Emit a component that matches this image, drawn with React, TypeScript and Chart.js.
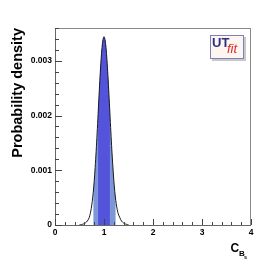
import React, { useEffect, useRef } from "react";
import { Chart, registerables } from "chart.js";

Chart.register(...registerables);

// ---- data ----
const X_VALUES = [
  0.5, 0.52, 0.54, 0.56, 0.58, 0.6, 0.62, 0.64, 0.66, 0.68,
  0.7, 0.72, 0.74, 0.76, 0.78, 0.8, 0.82, 0.84, 0.86, 0.88,
  0.9, 0.92, 0.94, 0.96, 0.98, 1.0, 1.02, 1.04, 1.06, 1.08,
  1.1, 1.12, 1.14, 1.16, 1.18, 1.2, 1.22, 1.24, 1.26, 1.28,
  1.3, 1.32, 1.34, 1.36, 1.38, 1.4, 1.42, 1.44, 1.46, 1.48, 1.5,
];
const DENSITY = [
  0.000004, 0.000006, 0.000009, 0.000013, 0.000019, 0.000027, 0.000038, 0.000053, 0.000073, 0.0001,
  0.00014, 0.00021, 0.0003, 0.00043, 0.00059, 0.0008, 0.001054, 0.00135, 0.001681, 0.002033,
  0.002388, 0.002723, 0.003016, 0.003245, 0.00339, 0.00344, 0.00339, 0.00325, 0.00302, 0.00273,
  0.0024, 0.00205, 0.0017, 0.00137, 0.00108, 0.00082, 0.00061, 0.00045, 0.00033, 0.00024,
  0.00018, 0.00014, 0.0001, 0.00007, 0.00005, 0.000035, 0.000025, 0.000018, 0.000012, 0.000008, 0.000005,
];
const BAND_68 = [0.88, 1.12];
const BAND_95 = [0.78, 1.24];
const X_RANGE = [0, 4];
const Y_RANGE = [0, 0.0036];
const X_STEP = 1;
const Y_STEP = 0.001;
const X_MINOR = 0.2;
const Y_MINOR = 0.0002;
const Y_TITLE = "Probability density";
const X_TITLE = ["C", "B", "s"];
const LOGO = ["UT", "fit"];

const FONT = "'Liberation Sans', Arial, Helvetica, sans-serif";

function points(lo: number, hi: number) {
  const out: { x: number; y: number }[] = [];
  X_VALUES.forEach((x, i) => {
    if (x >= lo - 1e-9 && x <= hi + 1e-9) out.push({ x, y: DENSITY[i] });
  });
  return out;
}

const decorPlugin = {
  id: "decor",
  afterDatasetsDraw(chart: any) {
    const { ctx, chartArea: a, scales } = chart;
    const xs = scales.x;
    const ys = scales.y;
    ctx.save();
    // frame
    ctx.lineWidth = 1;
    ctx.strokeStyle = "#8a8a8a";
    ctx.strokeRect(a.left + 0.5, a.top + 0.5, a.right - a.left - 1, a.bottom - a.top);
    ctx.strokeStyle = "#666";
    ctx.beginPath();
    ctx.moveTo(a.left + 0.5, a.top);
    ctx.lineTo(a.left + 0.5, a.bottom + 0.5);
    ctx.lineTo(a.right, a.bottom + 0.5);
    ctx.stroke();
    // ticks
    ctx.strokeStyle = "#444";
    ctx.beginPath();
    const nx = Math.round((X_RANGE[1] - X_RANGE[0]) / X_MINOR);
    for (let i = 0; i <= nx; i++) {
      const v = X_RANGE[0] + i * X_MINOR;
      const px = Math.round(xs.getPixelForValue(v)) + 0.5;
      const major = i % Math.round(X_STEP / X_MINOR) === 0;
      ctx.moveTo(px, a.bottom);
      ctx.lineTo(px, a.bottom - (major ? 6 : 3));
    }
    const ny = Math.floor((Y_RANGE[1] - Y_RANGE[0]) / Y_MINOR + 1e-6);
    for (let i = 0; i <= ny; i++) {
      const v = Y_RANGE[0] + i * Y_MINOR;
      const py = Math.round(ys.getPixelForValue(v)) + 0.5;
      const major = i % Math.round(Y_STEP / Y_MINOR) === 0;
      ctx.moveTo(a.left, py);
      ctx.lineTo(a.left + (major ? 7 : 4), py);
    }
    ctx.stroke();
    ctx.restore();
  },
  afterDraw(chart: any) {
    const { ctx, chartArea: a } = chart;
    ctx.save();
    // y title
    ctx.fillStyle = "#000";
    ctx.font = `bold 14.5px ${FONT}`;
    ctx.translate(21.5, a.top);
    ctx.rotate(-Math.PI / 2);
    ctx.textAlign = "right";
    ctx.textBaseline = "alphabetic";
    ctx.fillText(Y_TITLE, 0, 0);
    ctx.restore();

    // x title with nested subscripts
    ctx.save();
    ctx.fillStyle = "#000";
    ctx.textBaseline = "alphabetic";
    ctx.textAlign = "left";
    ctx.font = `bold 12px ${FONT}`;
    ctx.fillText(X_TITLE[0], 230.5, 251.5);
    ctx.font = `bold 8px ${FONT}`;
    ctx.fillText(X_TITLE[1], 239, 256);
    ctx.font = `bold 5.5px ${FONT}`;
    ctx.fillText(X_TITLE[2], 244, 258.5);
    ctx.restore();

    // logo
    ctx.save();
    const lx = 210, ly = 35, lw = 34, lh = 24;
    ctx.fillStyle = "#c8c8c8";
    ctx.fillRect(lx + 2, ly + 2, lw, lh);
    ctx.fillStyle = "#fdf6f0";
    ctx.fillRect(lx, ly, lw, lh);
    ctx.strokeStyle = "#7d7fbf";
    ctx.lineWidth = 1;
    ctx.strokeRect(lx + 0.5, ly + 0.5, lw - 1, lh - 1);
    ctx.textBaseline = "alphabetic";
    ctx.fillStyle = "#2b2f7e";
    ctx.font = `bold 13px ${FONT}`;
    ctx.fillText(LOGO[0], 212, 47);
    ctx.fillStyle = "#e0262a";
    ctx.font = `italic 13px ${FONT}`;
    ctx.fillText(LOGO[1], 227, 53);
    ctx.restore();
  },
};

export default function App() {
  const ref = useRef<HTMLCanvasElement | null>(null);
  useEffect(() => {
    if (!ref.current) return;
    const chart = new Chart(ref.current, {
      type: "line",
      data: {
        datasets: [
          {
            label: "pdf",
            data: points(X_VALUES[0], X_VALUES[X_VALUES.length - 1]),
            borderColor: "#1a1a1a",
            borderWidth: 1,
            pointRadius: 0,
            fill: false,
            tension: 0.3,
            order: 0,
          },
          {
            label: "68%",
            data: points(BAND_68[0], BAND_68[1]),
            borderWidth: 0,
            borderColor: "rgba(0,0,0,0)",
            backgroundColor: "#5353dc",
            pointRadius: 0,
            fill: "origin",
            tension: 0.3,
            order: 1,
          },
          {
            label: "95%",
            data: points(BAND_95[0], BAND_95[1]),
            borderWidth: 0,
            borderColor: "rgba(0,0,0,0)",
            backgroundColor: "#7b97d8",
            pointRadius: 0,
            fill: "origin",
            tension: 0.3,
            order: 2,
          },
        ],
      },
      options: {
        responsive: false,
        animation: false,
        events: [],
        layout: { padding: { left: 0, top: 28, right: 28, bottom: 0 } },
        plugins: { legend: { display: false }, tooltip: { enabled: false } },
        scales: {
          x: {
            type: "linear",
            min: X_RANGE[0],
            max: X_RANGE[1],
            grid: { display: false, drawTicks: false },
            border: { display: false },
            afterFit: (s: any) => {
              s.height = 41;
            },
            ticks: {
              stepSize: X_STEP,
              autoSkip: false,
              maxRotation: 0,
              includeBounds: false,
              padding: 3,
              color: "#000",
              font: { family: FONT, size: 8.5, weight: "bold" },
              callback: (v: any) => String(v),
            },
          },
          y: {
            type: "linear",
            min: Y_RANGE[0],
            max: Y_RANGE[1],
            grid: { display: false, drawTicks: false },
            border: { display: false },
            afterFit: (s: any) => {
              s.width = 55;
            },
            ticks: {
              stepSize: Y_STEP,
              autoSkip: false,
              includeBounds: false,
              padding: 3,
              color: "#000",
              font: { family: FONT, size: 8.5, weight: "bold" },
              callback: (v: any) => (v === 0 ? "0" : Number(v).toFixed(3)),
            },
          },
        },
      },
      plugins: [decorPlugin],
    } as any);
    return () => chart.destroy();
  }, []);
  return (
    <div style={{ position: "fixed", left: 0, top: 0, width: 279, height: 266, background: "#fff" }}>
      <canvas ref={ref} width={279} height={266} style={{ width: 279, height: 266, display: "block" }} />
    </div>
  );
}
